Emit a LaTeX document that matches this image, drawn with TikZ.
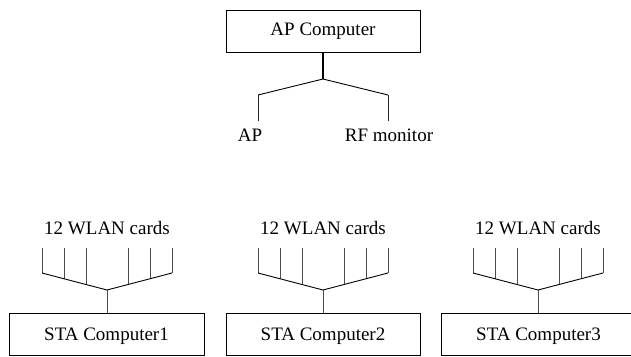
\documentclass[tikz,border=0pt]{standalone}
\usepackage{fontspec}
\setmainfont{Liberation Serif}
\begin{document}
\begin{tikzpicture}[x=1pt,y=-1pt,
  font=\fontsize{19}{22}\selectfont,
  box/.style={draw, line width=0.8pt, minimum height=42pt, inner sep=0pt},
  stabox/.style={box, text depth=0pt},
  lbl/.style={inner sep=0pt},
  wire/.style={line width=0.7pt, black!70},
  slant/.style={line width=0.9pt, black},
  apstem/.style={line width=1.8pt, black}]
\useasboundingbox (0,0) rectangle (631,356);
% AP computer and its branches
\node[box, minimum width=194pt] (apc) at (323,31) {AP Computer};
\coordinate (apj) at (323,79);
\coordinate (apl) at (258,95);
\coordinate (apr) at (388,95);
\node[lbl] (ap) at (250,135) {AP};
\node[lbl] (rf) at (389,135) {RF monitor};
\draw[apstem] (apc.south) -- (apj);
\draw[slant] (apl) -- (apj) -- (apr);
\draw[wire, black!85] (apl) -- (258,121);
\draw[wire, black!85] (apr) -- (388,121);
% STA computers
\node[stabox, minimum width=195pt] (sta1) at (106.5,334) {STA Computer1};
\node[stabox, minimum width=194pt] (sta2) at (323,334) {STA Computer2};
\node[stabox, minimum width=195pt] (sta3) at (538.5,334) {STA Computer3};
\foreach \i/\cx in {1/107,2/323,3/538}{
  \node[lbl] (cards\i) at (\cx,228) {12 WLAN cards};
  \coordinate (j\i) at (\cx,290);
  \draw[wire] (j\i) -- (sta\i.north -| j\i);
  \foreach \d in {-65,-43,-21,21,43,65}{
    \pgfmathsetmacro\yb{290-17*abs(\d)/65}
    \draw[wire] (\cx+\d,248) -- (\cx+\d,\yb);
  }
  \draw[slant] (\cx-65,273) -- (j\i) -- (\cx+65,273);
}
\end{tikzpicture}
\end{document}
